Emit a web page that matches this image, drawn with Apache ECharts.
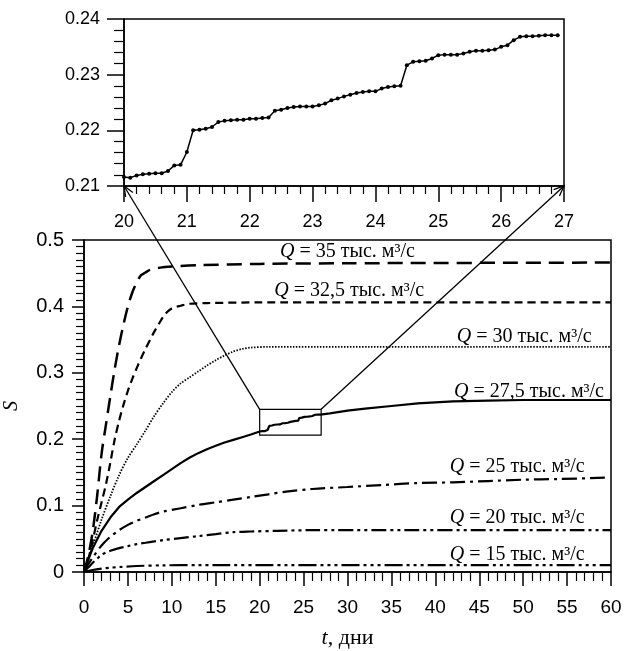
<!DOCTYPE html>
<html>
<head>
<meta charset="utf-8">
<script src="https://cdn.jsdelivr.net/npm/echarts@6/dist/echarts.min.js"></script>
<style>
  html, body { margin: 0; padding: 0; background: #fff; }
  #chart { width: 625px; height: 651px; }
</style>
</head>
<body>
<div id="chart"></div>
<script>
// main curves: t (days) and S for each discharge Q
const t35 = [0, 0.5, 1, 1.5, 2, 2.5, 3, 3.5, 4, 4.5, 5, 5.5, 6, 6.5, 7, 7.5, 8.5, 10, 13, 20, 30, 60]
const s35 = [0, 0.025, 0.062, 0.115, 0.178, 0.222, 0.265, 0.306, 0.342, 0.373, 0.4, 0.421, 0.436, 0.447, 0.451, 0.455, 0.458, 0.46, 0.462, 0.464, 0.465, 0.466]

const t325 = [0, 0.5, 1, 1.5, 2, 2.5, 3, 3.5, 4, 4.5, 5, 5.5, 6, 6.5, 7, 7.5, 8, 8.5, 9, 9.5, 10, 11, 12, 14, 20, 60]
const s325 = [0, 0.02, 0.048, 0.078, 0.105, 0.132, 0.165, 0.2, 0.228, 0.252, 0.273, 0.291, 0.307, 0.322, 0.336, 0.349, 0.362, 0.373, 0.384, 0.392, 0.397, 0.401, 0.404, 0.405, 0.406, 0.406]

const t30 = [0, 1, 2, 3, 4, 5, 6, 7, 8, 9, 10, 11, 12, 13, 14, 15, 16, 17, 18, 19, 21, 60]
const s30 = [0, 0.039, 0.079, 0.114, 0.146, 0.172, 0.192, 0.213, 0.235, 0.254, 0.271, 0.284, 0.293, 0.302, 0.311, 0.319, 0.326, 0.332, 0.336, 0.338, 0.339, 0.339]

const t275a = [0, 0.5, 1, 2, 3, 4, 5, 6, 7, 8, 9, 10, 11, 12, 13, 14, 15, 16, 17, 18, 19]
const s275a = [0, 0.019, 0.036, 0.062, 0.082, 0.098, 0.109, 0.119, 0.128, 0.137, 0.146, 0.155, 0.164, 0.172, 0.179, 0.185, 0.19, 0.195, 0.199, 0.203, 0.207]
const t275b = [28, 30, 32, 35, 38, 42, 46, 50, 60]
const s275b = [0.239, 0.243, 0.246, 0.25, 0.254, 0.257, 0.258, 0.259, 0.259]

const t25 = [0, 0.5, 1, 2, 3, 4, 5, 6, 7, 8, 9, 11, 13, 15, 17, 19, 21, 23, 26, 30, 34, 38, 42, 46, 50, 54, 59.3]
const s25 = [0, 0.012, 0.022, 0.04, 0.053, 0.063, 0.071, 0.077, 0.082, 0.087, 0.091, 0.096, 0.101, 0.105, 0.109, 0.113, 0.117, 0.121, 0.125, 0.128, 0.131, 0.134, 0.135, 0.137, 0.139, 0.14, 0.142]

const t20 = [0, 0.5, 1, 1.5, 2, 3, 4, 5, 6, 7, 8, 9, 11, 13, 15, 17, 19, 22, 26, 60]
const s20 = [0, 0.007, 0.014, 0.02, 0.026, 0.032, 0.036, 0.039, 0.042, 0.044, 0.046, 0.048, 0.051, 0.054, 0.057, 0.06, 0.061, 0.062, 0.063, 0.063]

const t15 = [0, 1, 2, 3, 4, 6, 9, 13, 60]
const s15 = [0, 0.003, 0.005, 0.0065, 0.0075, 0.009, 0.01, 0.0105, 0.0105]

// inset (zoomed part of Q = 27,5)
const insetT = [20.0, 20.1, 20.2, 20.3, 20.4, 20.5, 20.6, 20.7, 20.8, 20.9,
  21.0, 21.1, 21.2, 21.3, 21.4, 21.5, 21.6, 21.7, 21.8, 21.9,
  22.0, 22.1, 22.2, 22.3, 22.4, 22.5, 22.6, 22.7, 22.8, 22.9,
  23.0, 23.1, 23.2, 23.3, 23.4, 23.5, 23.6, 23.7, 23.8, 23.9,
  24.0, 24.1, 24.2, 24.3, 24.4, 24.5, 24.6, 24.7, 24.8, 24.9,
  25.0, 25.1, 25.2, 25.3, 25.4, 25.5, 25.6, 25.7, 25.8, 25.9,
  26.0, 26.1, 26.2, 26.3, 26.4, 26.5, 26.6, 26.7, 26.8, 26.9]
const insetS = [0.2116, 0.2115, 0.2119, 0.2121, 0.2122, 0.2123, 0.2123, 0.2127, 0.2137, 0.2138,
  0.2161, 0.2200, 0.2201, 0.2203, 0.2206, 0.2215, 0.2217, 0.2218, 0.2219, 0.2219,
  0.2221, 0.2221, 0.2222, 0.2223, 0.2235, 0.2237, 0.2240, 0.2242, 0.2243, 0.2243,
  0.2243, 0.2245, 0.2248, 0.2254, 0.2257, 0.2261, 0.2264, 0.2267, 0.2269, 0.2270,
  0.2270, 0.2275, 0.2278, 0.2279, 0.2280, 0.2317, 0.2323, 0.2324, 0.2325, 0.2329,
  0.2335, 0.2336, 0.2336, 0.2336, 0.2338, 0.2341, 0.2343, 0.2343, 0.2344, 0.2345,
  0.2350, 0.2353, 0.2362, 0.2368, 0.2369, 0.2369, 0.2370, 0.2371, 0.2371, 0.2371]

// zoom window shown on the main chart
const zoomT = [20, 27]
const zoomS = [0.206, 0.245]

const labelsQ = ['35', '32,5', '30', '27,5', '25', '20', '15']

const zip = (a, b) => a.map((v, i) => [v, b[i]])
const sans = 'Liberation Sans'
const serif = 'Liberation Serif'

const myChart = echarts.init(document.getElementById('chart'))

function valueAxis(grid, min, max, interval, minorSplit, fmt, tickLen, minorLen, fontSize, margin) {
  return {
    type: 'value',
    gridIndex: grid,
    min: min,
    max: max,
    interval: interval,
    axisLine: {show: true, onZero: false, lineStyle: {color: '#000', width: 1.5}},
    axisTick: {show: true, length: tickLen, lineStyle: {color: '#000', width: 1.5}},
    minorTick: {show: true, splitNumber: minorSplit, length: minorLen, lineStyle: {color: '#000', width: 1.2}},
    splitLine: {show: false},
    axisLabel: {color: '#000', fontFamily: sans, fontSize: fontSize, margin: margin, formatter: fmt}
  }
}

function curve(name, data, width, dash) {
  return {
    name: name,
    type: 'line',
    xAxisIndex: 1,
    yAxisIndex: 1,
    data: data,
    showSymbol: false,
    smooth: 0.3,
    lineStyle: {color: '#000', width: width, type: dash}
  }
}

const option = {
  animation: false,
  backgroundColor: '#fff',
  grid: [
    {left: 124, right: 61, top: 19, bottom: 465, outerBoundsMode: 'none', containLabel: false,
      show: true, borderColor: '#000', borderWidth: 1.5},
    {left: 84, right: 14, top: 240, bottom: 79, outerBoundsMode: 'none', containLabel: false,
      show: true, borderColor: '#000', borderWidth: 1.5}
  ],
  xAxis: [
    valueAxis(0, 20, 27, 1, 5, v => String(v), 16, 8, 18, 27),
    Object.assign(valueAxis(1, 0, 60, 5, 5, v => String(v), 14, 9, 19, 26), {
      name: '{i|t}, дни',
      nameLocation: 'middle',
      nameGap: 55,
      nameTextStyle: {
        color: '#000', fontFamily: serif, fontSize: 22,
        rich: {i: {fontStyle: 'italic', fontFamily: serif, fontSize: 22, color: '#000'}}
      }
    })
  ],
  yAxis: [
    valueAxis(0, 0.21, 0.24, 0.01, 5, v => v.toFixed(2), 17, 10, 18, 24),
    Object.assign(valueAxis(1, 0, 0.5, 0.1, 10, v => (v === 0 ? '0' : v.toFixed(1)), 12, 8, 20, 20), {
      name: 'S',
      nameLocation: 'middle',
      nameRotate: 90,
      nameGap: 62,
      nameTextStyle: {color: '#000', fontFamily: serif, fontSize: 20, fontStyle: 'italic'}
    })
  ],
  series: [
    {
      name: 'inset',
      type: 'line',
      xAxisIndex: 0,
      yAxisIndex: 0,
      data: zip(insetT, insetS),
      symbol: 'circle',
      symbolSize: 4,
      itemStyle: {color: '#000'},
      lineStyle: {color: '#000', width: 1.5}
    },
    curve('Q35', zip(t35, s35), 2.5, [15, 8]),
    curve('Q32.5', zip(t325, s325), 2.2, [8, 5]),
    curve('Q30', zip(t30, s30), 1.8, [1.5, 1.5]),
    Object.assign(curve('Q27.5', zip(t275a.concat(insetT, t275b), s275a.concat(insetS, s275b)), 2.2, 'solid'), {
      smooth: false,
      markArea: {
        silent: true,
        itemStyle: {color: 'rgba(0,0,0,0)', borderColor: '#000', borderWidth: 1.2},
        data: [[{coord: [zoomT[0], zoomS[0]]}, {coord: [zoomT[1], zoomS[1]]}]]
      }
    }),
    curve('Q25', zip(t25, s25), 2.2, [15, 5, 3, 5]),
    curve('Q20', zip(t20, s20), 2.2, [15, 4, 3, 4, 3, 4]),
    curve('Q15', zip(t15, s15), 2.2, [18, 4, 3, 4, 3, 4, 3, 4])
  ]
}

myChart.setOption(option)

// curve captions, placed in data space of the main chart
const captions = [
  {q: labelsQ[0], at: [30.0, 0.482], align: 'center'},
  {q: labelsQ[1], at: [30.2, 0.423], align: 'center'},
  {q: labelsQ[2], at: [57.8, 0.354], align: 'right'},
  {q: labelsQ[3], at: [59.2, 0.271], align: 'right'},
  {q: labelsQ[4], at: [57.0, 0.158], align: 'right'},
  {q: labelsQ[5], at: [57.0, 0.081], align: 'right'},
  {q: labelsQ[6], at: [57.0, 0.026], align: 'right'}
]

const mainPx = p => myChart.convertToPixel({xAxisIndex: 1, yAxisIndex: 1}, p)
const insetPx = p => myChart.convertToPixel({xAxisIndex: 0, yAxisIndex: 0}, p)

const graphics = captions.map(c => {
  const p = mainPx(c.at)
  return {
    type: 'text',
    x: p[0],
    y: p[1],
    silent: true,
    style: {
      text: '{i|Q} = ' + c.q + ' тыс. м³/с',
      fill: '#000',
      fontFamily: serif,
      fontSize: 20,
      align: c.align,
      verticalAlign: 'middle',
      rich: {i: {fontStyle: 'italic', fontFamily: serif, fontSize: 20, fill: '#000'}}
    }
  }
})

// connector lines with arrows from the zoom box to the inset corners
function arrow(from, to) {
  const dx = to[0] - from[0], dy = to[1] - from[1]
  const len = Math.sqrt(dx * dx + dy * dy)
  const ux = dx / len, uy = dy / len
  const head = 11, spread = 0.4
  const ca = Math.cos(spread), sa = Math.sin(spread)
  const l = [to[0] - head * (ux * ca - uy * sa), to[1] - head * (uy * ca + ux * sa)]
  const r = [to[0] - head * (ux * ca + uy * sa), to[1] - head * (uy * ca - ux * sa)]
  return [
    {type: 'line', silent: true, shape: {x1: from[0], y1: from[1], x2: to[0], y2: to[1]}, style: {stroke: '#000', lineWidth: 1.3}},
    {type: 'polyline', silent: true, shape: {points: [l, to, r]}, style: {stroke: '#000', lineWidth: 1.3, fill: null}}
  ]
}

const boxL = mainPx([zoomT[0], zoomS[1]])
const boxR = mainPx([zoomT[1], zoomS[1]])
const insL = insetPx([zoomT[0], 0.21])
const insR = insetPx([zoomT[1], 0.21])

myChart.setOption({graphic: graphics.concat(arrow(boxL, insL), arrow(boxR, insR))})
</script>
</body>
</html>
